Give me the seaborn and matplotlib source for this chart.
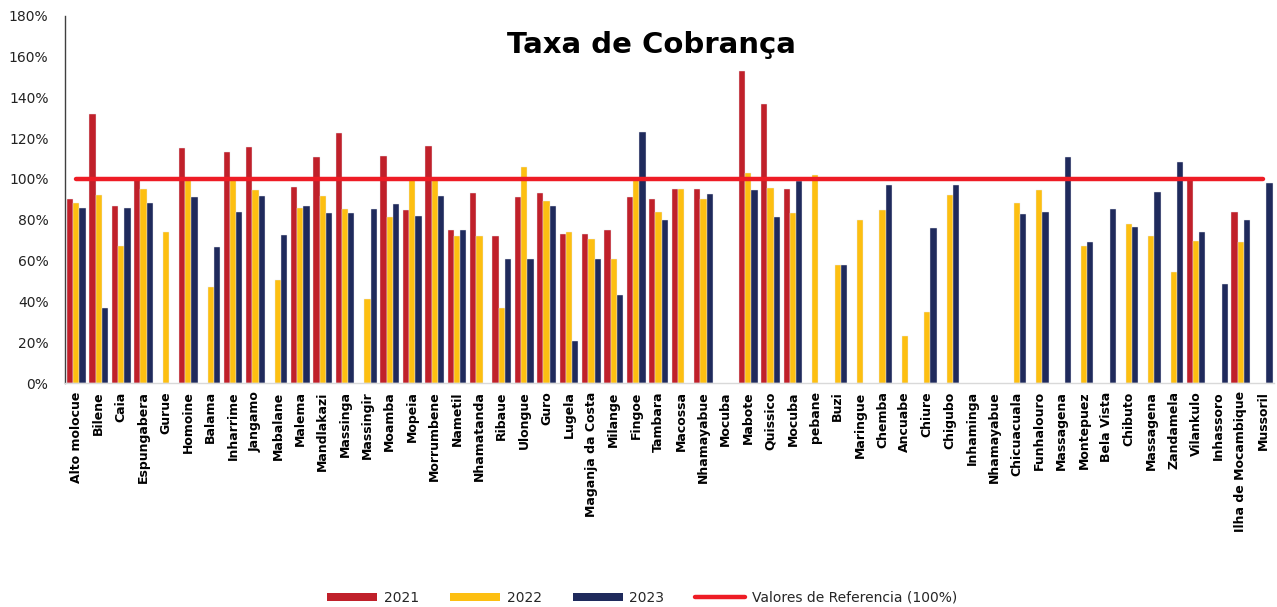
import numpy as np
import pandas as pd
import matplotlib
matplotlib.use("Agg")
import matplotlib.pyplot as plt
from matplotlib.patches import Patch
from matplotlib.lines import Line2D
from matplotlib.ticker import FuncFormatter, MultipleLocator
import seaborn as sns

nan = np.nan

categories = [
    "Alto molocue", "Bilene", "Caia", "Espungabera", "Gurue", "Homoine", "Balama",
    "Inharrime", "Jangamo", "Mabalane", "Malema", "Mandlakazi", "Massinga", "Massingir",
    "Moamba", "Mopeia", "Morrumbene", "Nametil", "Nhamatanda", "Ribaue", "Ulongue",
    "Guro", "Lugela", "Maganja da Costa", "Milange", "Fingoe", "Tambara", "Macossa",
    "Nhamayabue", "Mocuba", "Mabote", "Quissico", "Mocuba", "pebane", "Buzi",
    "Maringue", "Chemba", "Ancuabe", "Chiure", "Chigubo", "Inhaminga", "Nhamayabue",
    "Chicuacuala", "Funhalouro", "Massagena", "Montepuez", "Bela Vista", "Chibuto",
    "Massagena", "Zandamela", "Vilankulo", "Inhassoro", "Ilha de Mocambique", "Mussoril",
]

v2021 = [
    90, 132, 87, 100, nan, 115, nan,
    113, 115.5, nan, 96, 111, 122.5, nan,
    111.5, 85, 116, 75, 93, 72, 91,
    93, 73, 73, 75, 91, 90, 95,
    95, nan, 153, 137, 95, nan, nan,
    nan, nan, nan, nan, nan, nan, nan,
    nan, nan, nan, nan, nan, nan,
    nan, nan, 100, nan, 84, nan,
]

v2022 = [
    88, 92, 67, 95, 74, 99.5, 47,
    99.5, 94.5, 50.5, 86, 91.5, 85.5, 41,
    81.5, 99.5, 99.5, 72, 72, 37, 106,
    89, 74, 70.5, 61, 99.5, 84, 95,
    90, nan, 103, 95.5, 83.5, 102, 58,
    80, 85, 23, 35, 92, nan, nan,
    88, 94.5, nan, 67, nan, 78,
    72, 54.5, 69.5, nan, 69, nan,
]

v2023 = [
    86, 37, 86, 88, nan, 91, 66.5,
    84, 91.5, 72.5, 87, 83.5, 83.5, 85.5,
    87.5, 82, 91.5, 75, nan, 61, 61,
    87, 20.5, 61, 43, 123, 80, nan,
    92.5, nan, 94.5, 81.5, 99, nan, 58,
    nan, 97, nan, 76, 97, nan, nan,
    83, 84, 111, 69, 85.5, 76.5,
    93.5, 108.5, 74, 48.5, 80, 98,
]

reference = [100] * len(categories)
years = ["2021", "2022", "2023"]
colors = {"2021": "#C0202A", "2022": "#FDBF11", "2023": "#1F2A5C"}
ref_color = "#EE1C25"

pos = list(range(len(categories)))
df = pd.DataFrame({
    "pos": pos * 3,
    "value": v2021 + v2022 + v2023,
    "year": ["2021"] * len(pos) + ["2022"] * len(pos) + ["2023"] * len(pos),
})

sns.set_style("white")
plt.rcParams["font.family"] = ["DejaVu Sans"]

fig = plt.figure(figsize=(12.77, 6.07), dpi=100)
ax = fig.add_axes([0.051, 0.369, 0.947, 0.605])

sns.barplot(data=df, x="pos", y="value", hue="year", hue_order=years,
            palette=colors, saturation=1, width=0.84, ax=ax, legend=False,
            edgecolor="#E8E8EE", linewidth=0.3)

ax.plot(pos, reference, color=ref_color, linewidth=3.2, solid_capstyle="round", zorder=5)

ax.set_xlim(-0.5, len(categories) - 0.5)
ax.set_ylim(0, 180)
ax.yaxis.set_major_locator(MultipleLocator(20))
ax.yaxis.set_major_formatter(FuncFormatter(lambda v, p: f"{int(v)}%"))
ax.set_xticks(pos)
ax.set_xticklabels(categories, rotation=90, fontsize=9, fontweight="bold", color="black")
ax.tick_params(axis="y", labelsize=10, colors="#222222", length=0, pad=12)
ax.tick_params(axis="x", length=0, pad=6)
ax.set_xlabel("")
ax.set_ylabel("")

for s in ["top", "right"]:
    ax.spines[s].set_visible(False)
ax.spines["left"].set_color("#404040")
ax.spines["left"].set_linewidth(1.0)
ax.spines["bottom"].set_color("#D9D9D9")
ax.spines["bottom"].set_linewidth(1.0)

ax.text(0.485, 0.92, "Taxa de Cobrança", transform=ax.transAxes, ha="center", va="center",
        fontsize=21, fontweight="bold", color="black")

handles = [Patch(facecolor=colors[y], edgecolor="none") for y in years]
handles.append(Line2D([0], [0], color=ref_color, linewidth=3.2))
labels = years + ["Valores de Referencia (100%)"]
fig.legend(handles, labels, loc="center", bbox_to_anchor=(0.503, 0.015), ncol=4,
           frameon=False, fontsize=10, handlelength=3.6, handleheight=0.55,
           columnspacing=2.2, handletextpad=0.5)

fig.savefig("out.png", dpi=100)
